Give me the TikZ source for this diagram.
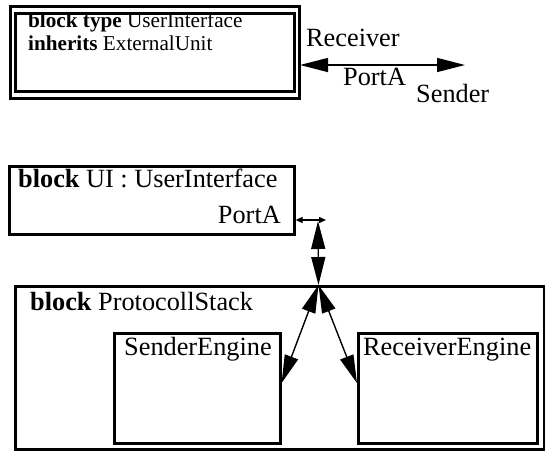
\documentclass[tikz,border=0pt]{standalone}
\usepackage{fontspec}
\setmainfont{Liberation Serif}
\usetikzlibrary{arrows.meta}
\tikzset{
  box/.style={draw, line width=2.6pt, inner sep=0pt, anchor=north west},
  lbl/.style={inner sep=0pt, anchor=base west, font=\fontsize{26.3}{31}\selectfont},
  smalllbl/.style={inner sep=0pt, anchor=base west, font=\fontsize{21.2}{25}\selectfont},
  conn/.style={line width=1.4pt, {Triangle[length=28pt,width=14pt]}-{Triangle[length=28pt,width=14pt]}},
  portconn/.style={line width=1.4pt, {Triangle[length=7pt,width=6pt]}-{Triangle[length=7pt,width=6pt]}}
}
\begin{document}
\begin{tikzpicture}[x=1pt,y=-1pt]
\useasboundingbox (0,0) rectangle (545,451);
% legend: block type
\node[box, minimum width=289pt, minimum height=92pt] (outer) at (9,5) {};
\node[box, minimum width=279pt, minimum height=78pt] (inner) at (14,12) {};
\node[smalllbl] (t1) at (28,27) {\textbf{block type} UserInterface};
\node[smalllbl] (t2) at (28,50) {\textbf{inherits} ExternalUnit};
% legend: port
\coordinate (la) at (300,65);
\coordinate (lb) at (465,65);
\draw[conn] (la) -- (lb);
\node[lbl] (recv) at (306,46) {Receiver};
\node[lbl] (porta1) at (343,85) {PortA};
\node[lbl] (send) at (416,102) {Sender};
% UI block
\node[box, minimum width=285pt, minimum height=68pt] (ui) at (8,165) {};
\node[lbl] (uit) at (18,187) {\textbf{block} UI : UserInterface};
\node[lbl, anchor=base east] (uiport) at (281,223) {PortA};
% ProtocollStack
\node[box, minimum width=529pt, minimum height=163pt] (ps) at (14,285) {};
\node[lbl] (pst) at (30,310) {\textbf{block} ProtocollStack};
\node[box, minimum width=166pt, minimum height=110pt] (se) at (113,332) {};
\node[lbl] (set) at (124,355) {SenderEngine};
\node[box, minimum width=179pt, minimum height=110pt] (re) at (357,332) {};
\node[lbl] (ret) at (363,355) {ReceiverEngine};
% connectors
\coordinate (pa) at (ui.east |- 0,220);
\coordinate (pb) at (326,220);
\coordinate (vt) at (318,221);
\coordinate (jn) at (318.5,285);
\coordinate (sa) at (se.north east |- 0,383);
\coordinate (ra) at (re.north west |- 0,383);
\draw[portconn] (pa) -- (pb);
\draw[conn] (vt) -- (jn);
\draw[conn] (jn) -- (sa);
\draw[conn] (jn) -- (ra);
\end{tikzpicture}
\end{document}
